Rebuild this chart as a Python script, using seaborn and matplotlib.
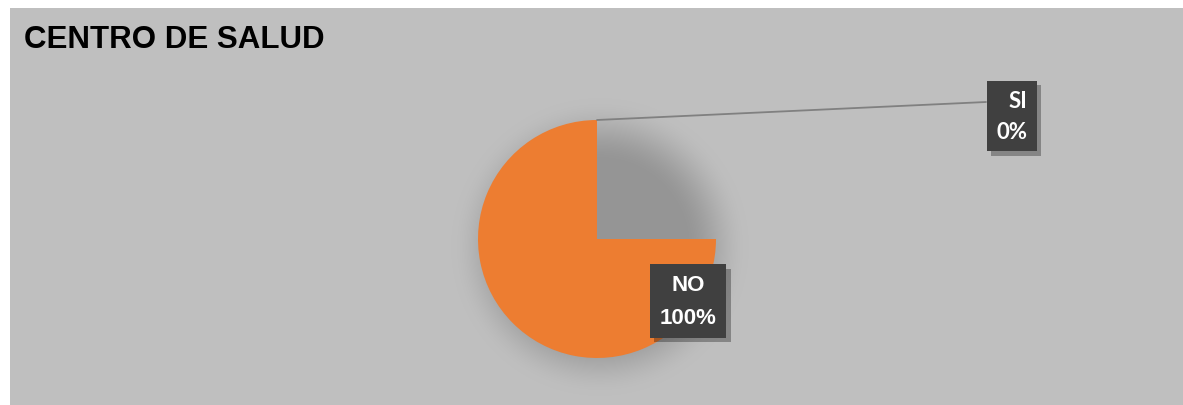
import numpy as np
import matplotlib
matplotlib.use("Agg")
import matplotlib.pyplot as plt
import matplotlib.patheffects as pe
import seaborn as sns

# datos del grafico
categorias = ["SI", "NO"]
porcentajes = [0, 100]
colores = ["#5B9BD5", "#ED7D31"]
titulo = "CENTRO DE SALUD"

sns.set_theme(style="white")
plt.rcParams["font.family"] = ["Liberation Sans", "DejaVu Sans"]

W, H = 1183, 406
fig = plt.figure(figsize=(W / 100, H / 100), dpi=100)
fig.patch.set_facecolor("white")

# panel gris en coordenadas de pixel
ax = fig.add_axes([10 / W, 0, (W - 10) / W, 397 / H])
ax.set_facecolor("#bfbfbf")

cx, cy, r = 587, 166, 119

# sombra difusa bajo el pastel (smoothstep que llega a cero)
xs = np.arange(0, W - 10) + 0.5
ys = np.arange(0, 397) + 0.5
X, Y = np.meshgrid(xs, ys)
d = np.hypot(X - (cx + 3), Y - (cy - 8))
t = np.clip((d - (r - 35)) / 65.0, 0, 1)
v = 1 - t * t * (3 - 2 * t)
g = (191 - 42 * v) / 255
img = np.dstack([g, g, g])
ax.imshow(img, extent=[0, W - 10, 0, 397], origin="lower", zorder=0, interpolation="bilinear")

# el render original solo barre tres cuartos del circulo
total = sum(porcentajes)
fracciones = [p / total * 0.75 for p in porcentajes]
ax.pie(fracciones, colors=colores, startangle=90, counterclock=True,
       center=(cx, cy), radius=r, normalize=False,
       wedgeprops=dict(linewidth=0, zorder=2))

ax.set_xlim(0, W - 10)
ax.set_ylim(0, 397)
ax.set_aspect("auto")
ax.axis("off")

# linea guia hacia la etiqueta SI
ax.plot([cx, 976], [cy + r, 303], color="#808080", lw=1.3, zorder=3)

sombra = [pe.withSimplePatchShadow(offset=(3, -3), shadow_rgbFace="black", alpha=0.3)]

t1 = ax.text(1002, 289, f"{categorias[0]}\n{porcentajes[0]}%", color="white",
             fontsize=16, fontweight="bold", family=["Lato", "DejaVu Sans"],
             ha="center", va="center", multialignment="right", linespacing=1.6,
             bbox=dict(boxstyle="square,pad=0.42", fc="#404040", ec="none"), zorder=4)
t1.get_bbox_patch().set_path_effects(sombra)

t2 = ax.text(678, 104, f"{categorias[1]}\n{porcentajes[1]}%", color="white",
             fontsize=16, fontweight="bold", ha="center", va="center",
             multialignment="center", linespacing=1.7,
             bbox=dict(boxstyle="square,pad=0.45", fc="#404040", ec="none"), zorder=4)
t2.get_bbox_patch().set_path_effects(sombra)

fig.text(24 / W, 1 - 40 / H, titulo, fontsize=22.5, fontweight="bold",
         color="black", ha="left", va="center")

fig.savefig("out.png", dpi=100, facecolor=fig.get_facecolor())
